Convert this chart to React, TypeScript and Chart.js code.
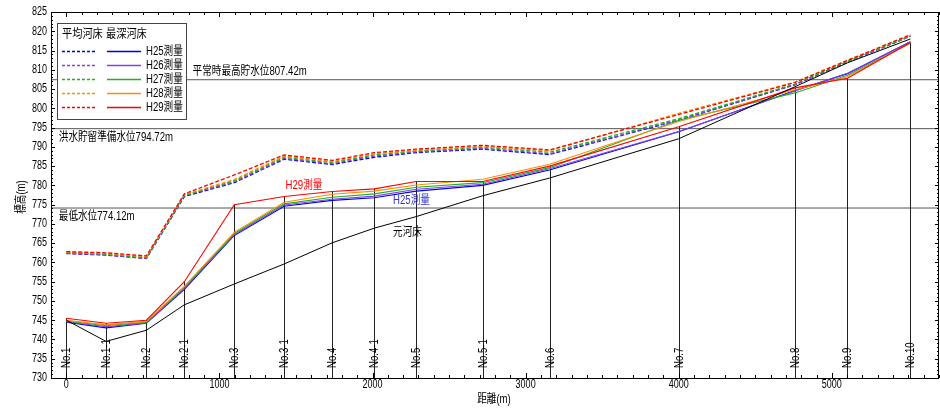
import React, { useEffect, useRef } from "react";
import { Chart, registerables } from "chart.js";
Chart.register(...registerables);

// ---- data ----
const stations = ["No.1", "No.1-1", "No.2", "No.2-1", "No.3", "No.3-1", "No.4", "No.4-1", "No.5", "No.5-1", "No.6", "No.7", "No.8", "No.9", "No.10"];
const distances = [0, 260, 523, 771, 1097, 1423, 1737, 2012, 2286, 2719, 3156, 4000, 4759, 5102, 5513];

const originalBed = [745.0, 739.5, 742.4, 749.0, 754.4, 759.6, 765.1, 768.9, 771.9, 777.3, 781.9, 792.1, 805.6, 811.8, 818.0];

const deepH25 = [744.5, 743.0, 744.2, 753.0, 767.0, 774.6, 776.1, 776.8, 778.5, 780.0, 784.0, 793.9, 804.6, 809.0, 817.3];
const deepH26 = [744.6, 743.3, 744.3, 753.3, 767.2, 774.9, 776.4, 777.2, 779.0, 780.3, 784.3, 794.0, 804.5, 809.1, 817.3];
const deepH27 = [744.8, 743.6, 744.5, 753.6, 767.5, 775.2, 776.9, 777.8, 779.5, 780.7, 784.6, 796.9, 804.0, 808.6, 816.9];
const deepH28 = [745.0, 743.8, 744.7, 753.8, 767.8, 775.6, 777.7, 778.5, 780.1, 781.6, 785.5, 796.6, 804.8, 808.2, 817.0];
const deepH29 = [745.5, 744.2, 745.0, 755.0, 775.0, 777.1, 778.4, 779.1, 781.0, 781.0, 785.0, 795.2, 805.3, 807.8, 817.1];

const avgH25 = [762.3, 761.9, 761.0, 777.1, 780.7, 786.8, 785.4, 787.3, 788.5, 789.4, 788.0, 796.9, 806.1, 812.0, 818.7];
const avgH26 = [762.4, 762.0, 761.1, 777.3, 780.9, 787.0, 785.6, 787.6, 788.7, 789.6, 788.2, 797.0, 806.2, 812.1, 818.7];
const avgH27 = [762.5, 762.1, 761.2, 777.4, 781.2, 787.3, 785.9, 787.9, 788.9, 789.9, 788.6, 797.3, 806.3, 812.2, 818.8];
const avgH28 = [762.7, 762.3, 761.5, 777.6, 781.5, 787.6, 786.2, 788.2, 789.1, 790.1, 789.0, 798.7, 806.8, 812.5, 819.0];
const avgH29 = [762.8, 762.5, 761.7, 777.8, 782.7, 787.9, 786.5, 788.5, 789.4, 790.4, 789.2, 798.4, 806.7, 812.4, 819.1];

const surveyNames = ["H25測量", "H26測量", "H27測量", "H28測量", "H29測量"];
const surveyColors = ["#0000E0", "#8040F0", "#22B022", "#FF8C00", "#FF0000"];

const refLevels = [807.42, 794.72, 774.12];
const refLabels = ["平常時最高貯水位807.42m", "洪水貯留準備水位794.72m", "最低水位774.12m"];

const xTickValues = [0, 1000, 2000, 3000, 4000, 5000];
const X_MIN = -100;
const X_MAX = 5700;
const Y_MIN = 730;
const Y_MAX = 825;

const FONT = "'Liberation Sans', 'Noto Sans CJK JP', sans-serif";

const pts = (arr: number[]) => arr.map((v, i) => ({ x: distances[i], y: v }));

function txt(ctx: CanvasRenderingContext2D, s: string, x: number, y: number, opt: any = {}) {
  ctx.save();
  ctx.translate(x, y);
  if (opt.rot) ctx.rotate(opt.rot);
  ctx.scale(opt.sx ?? 0.8, 1);
  ctx.font = `${opt.size ?? 12}px ${FONT}`;
  ctx.fillStyle = opt.color ?? "#000";
  ctx.textAlign = opt.align ?? "left";
  ctx.textBaseline = "middle";
  ctx.fillText(s, 0, 0);
  ctx.restore();
}

const overlayPlugin = {
  id: "overlay",
  beforeDatasetsDraw(chart: any) {
    const { ctx, chartArea, scales } = chart;
    const { left, right } = chartArea;
    const x = scales.x, y = scales.y;
    ctx.save();
    refLevels.forEach((lv) => {
      const py = y.getPixelForValue(lv);
      ctx.strokeStyle = "#555";
      ctx.lineWidth = 1;
      ctx.beginPath();
      ctx.moveTo(left, py);
      ctx.lineTo(right, py);
      ctx.stroke();
    });
    distances.forEach((d, i) => {
      const px = Math.round(x.getPixelForValue(d)) + 0.5;
      ctx.strokeStyle = "#222";
      ctx.lineWidth = 1;
      ctx.beginPath();
      ctx.moveTo(px, y.getPixelForValue(Y_MIN));
      ctx.lineTo(px, y.getPixelForValue(deepH29[i]));
      ctx.stroke();
    });
    ctx.restore();
  },
  afterDraw(chart: any) {
    const { ctx, chartArea, scales } = chart;
    const { left, right, top, bottom } = chartArea;
    const x = scales.x, y = scales.y;
    ctx.save();
    // frame
    ctx.strokeStyle = "#000";
    ctx.lineWidth = 1;
    ctx.strokeRect(Math.round(left) + 0.5, Math.round(top) + 0.5, Math.round(right - left) - 1, Math.round(bottom - top));
    for (let v = Y_MIN; v <= Y_MAX; v++) {
      const py = Math.round(y.getPixelForValue(v)) + 0.5;
      const len = v % 5 === 0 ? 4 : 2;
      ctx.beginPath();
      ctx.moveTo(left, py); ctx.lineTo(left + len, py);
      ctx.moveTo(right, py); ctx.lineTo(right - len, py);
      ctx.stroke();
    }
    for (let d = X_MIN; d <= X_MAX; d += 100) {
      const px = Math.round(x.getPixelForValue(d)) + 0.5;
      const len = d % 1000 === 0 ? 5 : 3;
      ctx.beginPath();
      ctx.moveTo(px, bottom); ctx.lineTo(px, bottom - len);
      ctx.moveTo(px, top); ctx.lineTo(px, top + len);
      ctx.stroke();
    }
    // tick labels
    y.ticks.forEach((t: any) => {
      txt(ctx, String(t.value), left - 4, y.getPixelForValue(t.value), { align: "right", sx: 0.75 });
    });
    x.ticks.forEach((t: any) => {
      txt(ctx, String(t.value), x.getPixelForValue(t.value), bottom + 7, { align: "center", sx: 0.75 });
    });
    // station labels
    distances.forEach((d, i) => {
      const px = Math.round(x.getPixelForValue(d)) + 0.5;
      txt(ctx, stations[i], px, bottom - 10, { rot: -Math.PI / 2, sx: 0.8, size: 12 });
    });
    // reference level labels
    txt(ctx, refLabels[0], x.getPixelForValue(825), y.getPixelForValue(809.6));
    txt(ctx, refLabels[1], x.getPixelForValue(-49), y.getPixelForValue(792.4));
    txt(ctx, refLabels[2], x.getPixelForValue(-49), y.getPixelForValue(771.9));
    // annotations
    txt(ctx, "H29測量", x.getPixelForValue(1432), y.getPixelForValue(779.8), { color: "#FF0000" });
    txt(ctx, "H25測量", x.getPixelForValue(2134), y.getPixelForValue(776.0), { color: "#3333CC" });
    txt(ctx, "元河床", x.getPixelForValue(2134), y.getPixelForValue(767.8));
    // axis titles
    txt(ctx, "距離(m)", 494, 400, { align: "center" });
    txt(ctx, "標高(m)", 22, 197, { align: "center", rot: -Math.PI / 2 });
    // legend
    const bx = 57.5, by = 23.5, bw = 129, bh = 96;
    ctx.fillStyle = "#fff";
    ctx.fillRect(bx, by, bw, bh);
    ctx.strokeStyle = "#444";
    ctx.lineWidth = 1;
    ctx.strokeRect(bx, by, bw, bh);
    txt(ctx, "平均河床", 62, 34.5, { sx: 0.85 });
    txt(ctx, "最深河床", 106, 34.5, { sx: 0.85 });
    surveyNames.forEach((nm, i) => {
      const ry = 51.5 + i * 14;
      ctx.strokeStyle = surveyColors[i];
      ctx.lineWidth = 1.3;
      ctx.setLineDash([3, 2]);
      ctx.beginPath(); ctx.moveTo(62, ry); ctx.lineTo(96, ry); ctx.stroke();
      ctx.setLineDash([]);
      ctx.beginPath(); ctx.moveTo(107, ry); ctx.lineTo(141, ry); ctx.stroke();
      txt(ctx, nm, 146, ry);
    });
    ctx.restore();
  },
};

export default function App() {
  const ref = useRef<HTMLCanvasElement | null>(null);
  useEffect(() => {
    if (!ref.current) return;
    const deep = [deepH29, deepH28, deepH27, deepH26, deepH25];
    const avg = [avgH29, avgH28, avgH27, avgH26, avgH25];
    const datasets: any[] = [];
    datasets.push({ label: "元河床", data: pts(originalBed), borderColor: "#000", borderWidth: 1 });
    deep.forEach((arr, k) => {
      const i = 4 - k;
      datasets.push({ label: "最深河床" + surveyNames[i], data: pts(arr), borderColor: surveyColors[i], borderWidth: 1.1 });
    });
    avg.forEach((arr, k) => {
      const i = 4 - k;
      datasets.push({ label: "平均河床" + surveyNames[i], data: pts(arr), borderColor: surveyColors[i], borderWidth: 1.3, borderDash: [4, 2] });
    });
    datasets.forEach((d) => { d.pointRadius = 0; d.tension = 0; d.fill = false; });

    const chart = new Chart(ref.current, {
      type: "line",
      data: { datasets },
      options: {
        animation: false,
        responsive: false,
        devicePixelRatio: 1,
        layout: { padding: { top: 12, right: 1, left: 0, bottom: 0 } },
        plugins: { legend: { display: false }, tooltip: { enabled: false } },
        scales: {
          x: {
            type: "linear",
            min: X_MIN,
            max: X_MAX,
            grid: { display: false },
            border: { display: false },
            afterBuildTicks: (s: any) => { s.ticks = xTickValues.map((v) => ({ value: v })); },
            afterFit: (s: any) => { s.height = 30; },
            ticks: { display: false },
          },
          y: {
            type: "linear",
            min: Y_MIN,
            max: Y_MAX,
            grid: { display: false },
            border: { display: false },
            afterFit: (s: any) => { s.width = 51; },
            ticks: { display: false, stepSize: 5, autoSkip: false },
          },
        },
      },
      plugins: [overlayPlugin],
    } as any);
    return () => chart.destroy();
  }, []);
  return (
    <div style={{ position: "absolute", left: 0, top: 0, width: 940, height: 408, background: "#fff" }}>
      <canvas ref={ref} width={940} height={408} />
    </div>
  );
}
